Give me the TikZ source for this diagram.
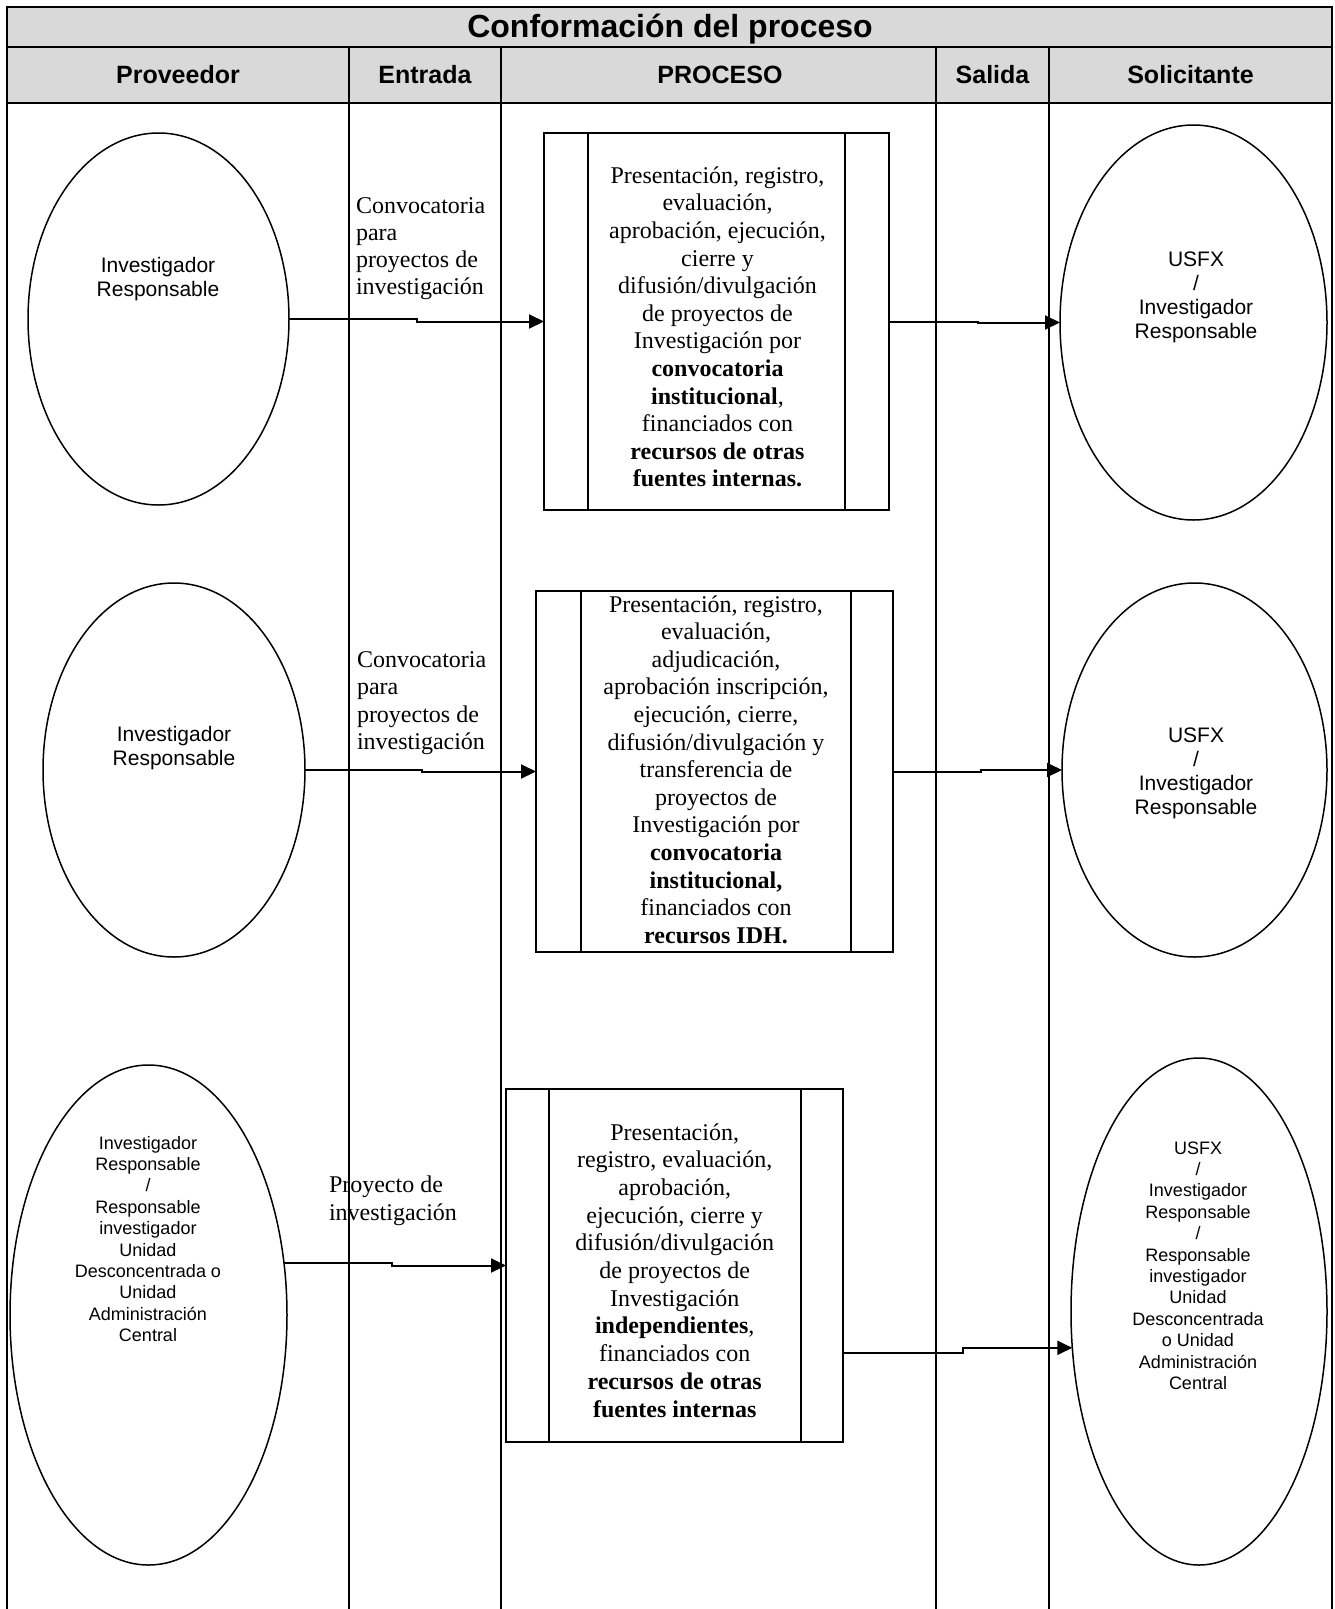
\documentclass[tikz,border=0pt]{standalone}
\usepackage{fontspec}
\setmainfont{Liberation Serif}
\newfontfamily\arialf{Liberation Sans}
\usetikzlibrary{shapes.geometric,arrows.meta,calc}
\definecolor{hdr}{RGB}{217,217,217}
\newcommand{\tnr}{\fontsize{24pt}{27.6pt}\selectfont}
\newcommand{\arl}{\arialf\fontsize{21pt}{24.3pt}\selectfont}
\newcommand{\arls}{\arialf\fontsize{18pt}{21.4pt}\selectfont}
\begin{document}
\begin{tikzpicture}[x=1pt,y=-1pt,
  tab/.style={line width=2pt},
  oval/.style={draw, ellipse, line width=1.5pt, inner sep=0pt, outer sep=0pt},
  procbox/.style={draw, rectangle, line width=2pt, inner sep=0pt, outer sep=0pt},
  innerline/.style={line width=2pt},
  arr/.style={line width=2pt, -{Triangle[length=15pt,width=14pt]}},
  lbl/.style={inner sep=0pt, outer sep=0pt, anchor=base},
  lblw/.style={inner sep=0pt, outer sep=0pt, anchor=base west},
  hdrtxt/.style={inner sep=0pt, anchor=base, font=\arialf\bfseries\fontsize{25pt}{28pt}\selectfont}
]
\useasboundingbox (0,0) rectangle (1334,1609);
% header background
\fill[hdr] (7,7) rectangle (1332,103);
% table frame
\draw[tab] (7,1612) -- (7,7) -- (1332,7) -- (1332,1612);
\draw[tab] (7,47) -- (1332,47);
\draw[tab] (7,103) -- (1332,103);
\foreach \cx in {349,501,936,1049} \draw[tab] (\cx,47) -- (\cx,1612);
% title and headers
\node[lbl] (title) at (670,37) {\arialf\bfseries\fontsize{32pt}{36pt}\selectfont Conformación del proceso};
\node[hdrtxt] (hprov) at (178,83) {Proveedor};
\node[hdrtxt] (hent) at (425,83) {Entrada};
\node[hdrtxt] (hproc) at (720,83) {PROCESO};
\node[hdrtxt] (hsal) at (992.5,83) {Salida};
\node[hdrtxt] (hsol) at (1190.5,83) {Solicitante};

% ---------- Row 1 ----------
\node[oval, minimum width=261pt, minimum height=372pt] (e1) at (158.5,319) {};
\node[lbl] (e1t) at (158,272) {\arl\begin{tabular}[t]{@{}c@{}}Investigador\\Responsable\end{tabular}};
\node[lblw] (l1) at (356,213) {\fontsize{24pt}{27.3pt}\selectfont\begin{tabular}[t]{@{}l@{}}Convocatoria\\para\\proyectos de\\investigación\end{tabular}};
\node[procbox, minimum width=345pt, minimum height=377pt] (p1) at (716.5,321.5) {};
\draw[innerline] ([xshift=44pt]p1.north west) -- ([xshift=44pt]p1.south west);
\draw[innerline] ([xshift=-44pt]p1.north east) -- ([xshift=-44pt]p1.south east);
\node[lbl] (p1t) at (717.5,183.3) {\tnr\begin{tabular}[t]{@{}c@{}}Presentación, registro,\\evaluación,\\aprobación, ejecución,\\cierre y\\difusión/divulgación\\de proyectos de\\Investigación por\\\textbf{convocatoria}\\\textbf{institucional},\\financiados con\\\textbf{recursos de otras}\\\textbf{fuentes internas.}\end{tabular}};
\node[oval, minimum width=267pt, minimum height=395pt] (e4) at (1193.5,322.5) {};
\node[lbl] (e4t) at (1196,266) {\arl\begin{tabular}[t]{@{}c@{}}USFX\\/\\Investigador\\Responsable\end{tabular}};
\draw[arr] (e1.east) -- ++(128,0) |- (p1.west);
\draw[arr] (p1.east) -- ++(89,0) |- (e4.west);

% ---------- Row 2 ----------
\node[oval, minimum width=262pt, minimum height=374pt] (e2) at (174,770) {};
\node[lbl] (e2t) at (174,741) {\arl\begin{tabular}[t]{@{}c@{}}Investigador\\Responsable\end{tabular}};
\node[lblw] (l2) at (357,667) {\fontsize{24pt}{27.5pt}\selectfont\begin{tabular}[t]{@{}l@{}}Convocatoria\\para\\proyectos de\\investigación\end{tabular}};
\node[procbox, minimum width=357pt, minimum height=361pt] (p2) at (714.5,771.5) {};
\draw[innerline] ([xshift=45pt]p2.north west) -- ([xshift=45pt]p2.south west);
\draw[innerline] ([xshift=-42pt]p2.north east) -- ([xshift=-42pt]p2.south east);
\node[lbl] (p2t) at (716,612) {\tnr\begin{tabular}[t]{@{}c@{}}Presentación, registro,\\evaluación,\\adjudicación,\\aprobación inscripción,\\ejecución, cierre,\\difusión/divulgación y\\transferencia de\\proyectos de\\Investigación por\\\textbf{convocatoria}\\\textbf{institucional,}\\financiados con\\\textbf{recursos IDH.}\end{tabular}};
\node[oval, minimum width=265pt, minimum height=374pt] (e5) at (1194.5,770) {};
\node[lbl] (e5t) at (1196,742) {\arl\begin{tabular}[t]{@{}c@{}}USFX\\/\\Investigador\\Responsable\end{tabular}};
\draw[arr] (e2.east) -- ++(117,0) |- (p2.west);
\draw[arr] (p2.east) -- ++(88,0) |- (e5.west);

% ---------- Row 3 ----------
\node[oval, minimum width=277pt, minimum height=500pt] (e3) at (148.5,1315) {};
\node[lbl] (e3t) at (148,1149) {\arls\begin{tabular}[t]{@{}c@{}}Investigador\\Responsable\\/\\Responsable\\investigador\\Unidad\\Desconcentrada o\\Unidad\\Administración\\Central\end{tabular}};
\node[lblw] (l3) at (329,1192) {\fontsize{24pt}{28.5pt}\selectfont\begin{tabular}[t]{@{}l@{}}Proyecto de\\investigación\end{tabular}};
\node[procbox, minimum width=337pt, minimum height=353pt] (p3) at (674.5,1265.5) {};
\draw[innerline] ([xshift=43pt]p3.north west) -- ([xshift=43pt]p3.south west);
\draw[innerline] ([xshift=-42pt]p3.north east) -- ([xshift=-42pt]p3.south east);
\node[lbl] (p3t) at (674.7,1140) {\fontsize{24pt}{27.7pt}\selectfont\begin{tabular}[t]{@{}c@{}}Presentación,\\registro, evaluación,\\aprobación,\\ejecución, cierre y\\difusión/divulgación\\de proyectos de\\Investigación\\\textbf{independientes},\\financiados con\\\textbf{recursos de otras}\\\textbf{fuentes internas}\end{tabular}};
\node[oval, minimum width=256pt, minimum height=507pt] (e6) at (1199,1311.5) {};
\node[lbl] (e6t) at (1198,1154) {\arls\begin{tabular}[t]{@{}c@{}}USFX\\/\\Investigador\\Responsable\\/\\Responsable\\investigador\\Unidad\\Desconcentrada\\o Unidad\\Administración\\Central\end{tabular}};
\draw[arr] (e3.21.4) -- ++(108,0) |- (p3.west);
\draw[arr] ([yshift=89pt]p3.south east) -- ++(120,0) |- (e6.196.5);
\end{tikzpicture}
\end{document}
